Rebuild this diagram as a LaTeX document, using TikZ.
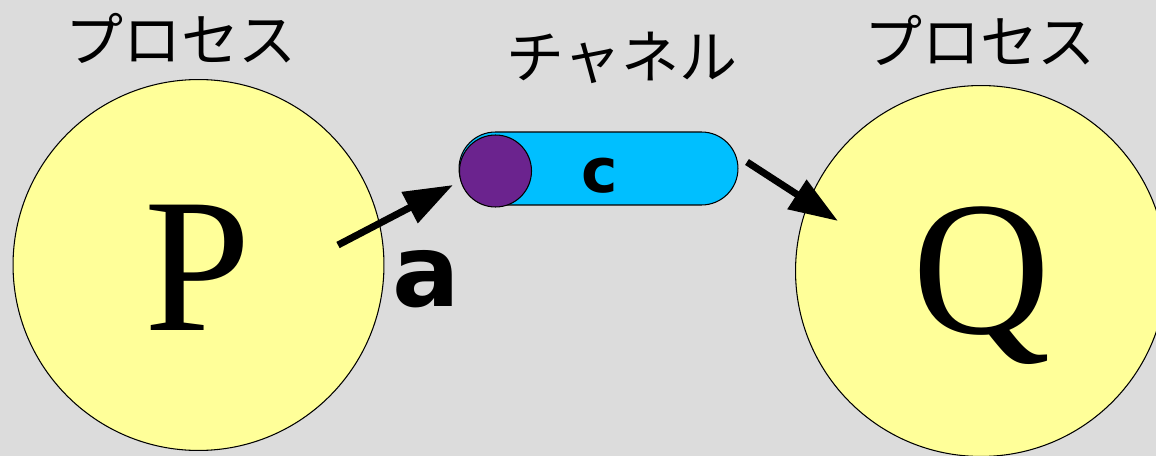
\documentclass[tikz,border=0pt]{standalone}
\usepackage{fontspec}
\usepackage{tikz}
\usetikzlibrary{arrows.meta,shapes.misc}
\newfontfamily\jpfont{Noto Sans CJK JP}
\newfontfamily\letterfont{Liberation Serif}
\newfontfamily\labelfont{DejaVu Sans}
\definecolor{bggray}{RGB}{220,220,220}
\definecolor{procyellow}{RGB}{255,255,153}
\definecolor{chanblue}{RGB}{0,191,255}
\definecolor{portpurple}{RGB}{107,35,142}

\begin{document}
\begin{tikzpicture}[x=0.02cm,y=-0.02cm,
  process/.style={circle,draw,line width=0.6pt,fill=procyellow,minimum size=7.42cm,inner sep=0pt},
  procname/.style={inner sep=0pt,anchor=base,font=\letterfont\fontsize{109}{109}\selectfont},
  jplabel/.style={inner sep=0pt,font=\jpfont\fontsize{33}{33}\selectfont},
  boldlabel/.style={inner sep=0pt,anchor=base,font=\labelfont\bfseries},
  chanbox/.style={rounded rectangle,draw,line width=0.6pt,fill=chanblue,minimum width=5.58cm,minimum height=1.46cm,inner sep=0pt},
  port/.style={circle,draw,line width=0.6pt,fill=portpurple,minimum size=1.44cm,inner sep=0pt},
  sendarrow/.style={line width=0.14cm,-{Triangle[length=0.98cm,width=0.67cm]}}
]
\useasboundingbox (0,0) rectangle (1156,456);
\fill[bggray] (0,0) rectangle (1156,456);
\clip (0,0) rectangle (1156,456);

% Processes
\node[process] (P) at (198.5,265) {};
\node[process] (Q) at (981,271) {};
\node[procname] (Pname) at (197.5,330) {P};
\node[procname] (Qname) at (981.5,333) {Q};
\node[jplabel] (Plabel) at (181,38) {プロセス};
\node[jplabel] (Qlabel) at (980,40) {プロセス};

% Channel
\node[chanbox] (chan) at (598.5,168.5) {};
\node[port] (cport) at (495.5,171) {};
\node[boldlabel,font=\labelfont\bfseries\fontsize{35}{35}\selectfont] (cname) at (599.5,193) {c};
\node[jplabel] (chanlabel) at (622,58) {チャネル};

% Send and receive
\coordinate (a1) at (338,245);
\coordinate (a2) at (453,185);
\coordinate (q1) at (747,162);
\coordinate (q2) at (838,221);
\draw[sendarrow] (a1) -- (a2);
\draw[sendarrow] (q1) -- (q2);
\node[boldlabel,font=\labelfont\bfseries\fontsize{57}{57}\selectfont] (aname) at (426.5,306) {a};
\end{tikzpicture}
\end{document}
